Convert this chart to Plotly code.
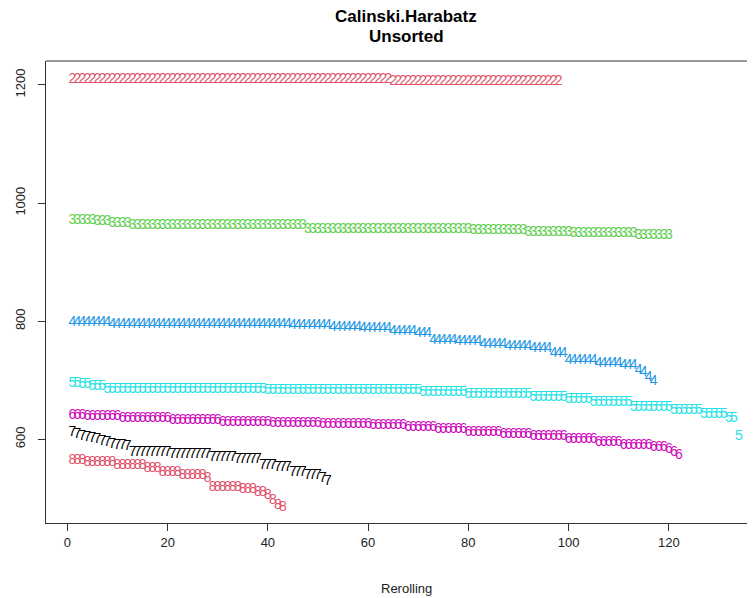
import plotly.graph_objects as go

# Series values (index 1..N on the x axis = rerolling step)
s2 = [1210, 1210, 1210, 1210, 1210, 1210, 1210, 1210, 1210, 1210,
      1210, 1210, 1210, 1210, 1210, 1210, 1210, 1210, 1210, 1210,
      1210, 1210, 1210, 1210, 1210, 1210, 1210, 1210, 1210, 1210,
      1210, 1210, 1210, 1210, 1210, 1210, 1210, 1210, 1210, 1210,
      1210, 1210, 1210, 1210, 1210, 1210, 1210, 1210, 1210, 1210,
      1210, 1210, 1210, 1210, 1210, 1210, 1210, 1210, 1210, 1210,
      1210, 1210, 1210, 1210, 1206, 1206, 1206, 1206, 1206, 1206,
      1206, 1206, 1206, 1206, 1206, 1206, 1206, 1206, 1206, 1206,
      1206, 1206, 1206, 1206, 1206, 1206, 1206, 1206, 1206, 1206,
      1206, 1206, 1206, 1206, 1206, 1206, 1206, 1206]

s3 = [971, 971, 971, 971, 971, 968, 968, 968, 965, 965,
      965, 965, 962, 962, 962, 962, 962, 962, 962, 962,
      962, 962, 962, 962, 962, 962, 962, 962, 962, 962,
      962, 962, 962, 962, 962, 962, 962, 962, 962, 962,
      962, 962, 962, 962, 962, 962, 962, 956, 956, 956,
      956, 956, 956, 956, 956, 956, 956, 956, 956, 956,
      956, 956, 956, 956, 956, 956, 956, 956, 956, 956,
      956, 956, 956, 956, 956, 956, 956, 956, 956, 956,
      954, 954, 954, 954, 954, 954, 954, 954, 954, 954,
      954, 951, 951, 951, 951, 951, 951, 951, 951, 951,
      948, 948, 948, 948, 948, 948, 948, 948, 948, 948,
      948, 948, 948, 945, 945, 945, 945, 945, 945, 945]

s4 = [798, 798, 798, 798, 798, 798, 798, 798, 794, 794,
      794, 794, 794, 794, 794, 794, 794, 794, 794, 794,
      794, 794, 794, 794, 794, 794, 794, 794, 794, 794,
      794, 794, 794, 794, 794, 794, 794, 794, 794, 794,
      794, 794, 794, 794, 792, 792, 792, 792, 792, 792,
      792, 792, 790, 790, 790, 790, 790, 790, 787, 787,
      787, 787, 787, 787, 783, 783, 783, 783, 783, 779,
      779, 779, 768, 768, 768, 768, 768, 765, 765, 765,
      765, 765, 761, 761, 761, 761, 761, 757, 757, 757,
      757, 757, 753, 753, 753, 753, 746, 746, 746, 733,
      733, 733, 733, 733, 733, 729, 729, 729, 729, 729,
      725, 725, 725, 717, 713, 705, 698]

s5 = [695, 695, 692, 692, 689, 689, 689, 685, 685, 685,
      685, 685, 685, 685, 685, 685, 685, 685, 685, 685,
      685, 685, 685, 685, 685, 685, 685, 685, 685, 685,
      685, 685, 685, 685, 685, 685, 685, 685, 685, 682,
      682, 682, 682, 682, 682, 682, 682, 682, 682, 682,
      682, 682, 682, 682, 682, 682, 682, 682, 682, 682,
      682, 682, 682, 682, 682, 682, 682, 682, 682, 682,
      680, 680, 680, 680, 680, 680, 680, 680, 680, 676,
      676, 676, 676, 676, 676, 676, 676, 676, 676, 676,
      676, 676, 671, 671, 671, 671, 671, 671, 671, 667,
      667, 667, 667, 667, 663, 663, 663, 663, 663, 663,
      663, 663, 654, 654, 654, 654, 654, 654, 654, 654,
      648, 648, 648, 648, 648, 648, 642, 642, 642, 642,
      642, 636, 636, 604]

s6 = [641, 641, 641, 638, 638, 638, 638, 638, 638, 638,
      635, 635, 635, 635, 635, 635, 635, 635, 635, 635,
      632, 632, 632, 632, 632, 632, 632, 632, 632, 632,
      629, 629, 629, 629, 629, 629, 629, 629, 629, 629,
      627, 627, 627, 627, 627, 627, 627, 627, 627, 627,
      625, 625, 625, 625, 625, 625, 625, 625, 625, 625,
      623, 623, 623, 623, 623, 623, 623, 620, 620, 620,
      620, 620, 620, 617, 617, 617, 617, 617, 617, 612,
      612, 612, 612, 612, 612, 612, 609, 609, 609, 609,
      609, 609, 605, 605, 605, 605, 605, 605, 605, 600,
      600, 600, 600, 600, 600, 595, 595, 595, 595, 595,
      590, 590, 590, 590, 590, 590, 586, 586, 586, 582,
      578, 572]

s7 = [611, 608, 605, 603, 601, 599, 597, 594, 592, 590,
      589, 588, 578, 578, 578, 578, 578, 578, 578, 578,
      574, 574, 574, 574, 574, 574, 574, 574, 569, 569,
      569, 569, 569, 565, 565, 565, 565, 565, 556, 556,
      556, 552, 552, 552, 543, 543, 543, 538, 538, 538,
      534, 528]

s8 = [564, 564, 564, 561, 561, 561, 561, 561, 561, 556,
      556, 556, 556, 556, 556, 550, 550, 550, 543, 543,
      543, 543, 539, 539, 539, 539, 539, 533, 518, 518,
      518, 518, 518, 518, 515, 515, 515, 510, 510, 505,
      496, 488, 484]

series = [s2, s3, s4, s5, s6, s7, s8]
symbols = ["2", "3", "4", "5", "6", "7", "8"]
colors = ["#DF536B", "#61D04F", "#2297E6", "#28E2E5", "#CD0BBC", "#000000", "#DF536B"]

x_ticks = [0, 20, 40, 60, 80, 100, 120]
y_ticks = [600, 800, 1000, 1200]

font = "Liberation Sans, Arial, sans-serif"

fig = go.Figure()
for vals, sym, col in zip(series, symbols, colors):
    xs = list(range(1, len(vals) + 1))
    fig.add_trace(go.Scatter(
        x=xs, y=vals, mode="text", text=[sym] * len(vals),
        textposition="middle center",
        textfont=dict(family=font, size=14, color=col),
        showlegend=False, hoverinfo="x+y"))

fig.update_layout(
    width=747, height=590,
    margin=dict(l=38, r=0, t=53, b=75),
    paper_bgcolor="white", plot_bgcolor="white",
    xaxis=dict(range=[-4.27, 137.2], tickvals=x_ticks, ticks="outside", ticklen=7,
               tickcolor="#333333", showline=True, linecolor="#333333", linewidth=1,
               showgrid=False, zeroline=False,
               tickfont=dict(family=font, size=13, color="#222222")),
    yaxis=dict(range=[458.3, 1240.6], tickvals=y_ticks, ticks="outside", ticklen=7,
               tickcolor="#333333", showline=True, linecolor="#333333", linewidth=1,
               showgrid=False, zeroline=False, tickangle=-90, ticklabelstandoff=8,
               tickfont=dict(family=font, size=13, color="#222222")),
    shapes=[dict(type="line", xref="paper", yref="paper", x0=0, x1=1, y0=1, y1=1,
                 line=dict(color="#333333", width=1))],
    annotations=[
        dict(text="<b>Calinski.Harabatz</b>", xref="paper", yref="paper", x=0.5078, y=1.0974,
             xanchor="center", yanchor="middle", showarrow=False,
             font=dict(family=font, size=17, color="black")),
        dict(text="<b>Unsorted</b>", xref="paper", yref="paper", x=0.5078, y=1.052,
             xanchor="center", yanchor="middle", showarrow=False,
             font=dict(family=font, size=17, color="black")),
        dict(text="Rerolling", xref="paper", yref="paper", x=0.509, y=-0.1407,
             xanchor="center", yanchor="middle", showarrow=False,
             font=dict(family=font, size=13, color="#222222")),
    ],
)

fig.write_html("out.html")
